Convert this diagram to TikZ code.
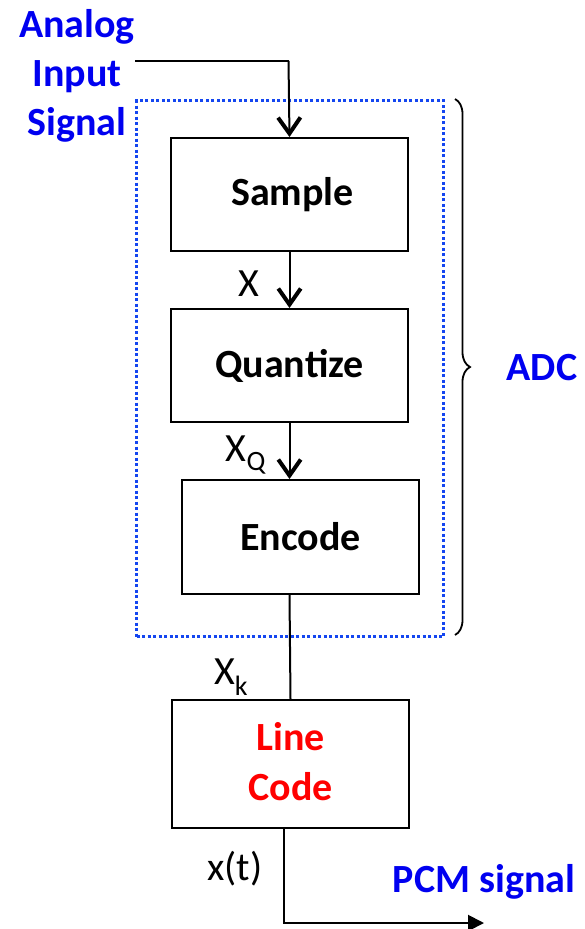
\documentclass[tikz,border=0pt]{standalone}
\usepackage{fontspec}
\setmainfont{Carlito}
\usetikzlibrary{arrows.meta,decorations.pathreplacing}
\definecolor{adcblue}{RGB}{0,0,240}
\definecolor{dotblue}{RGB}{20,70,240}
\definecolor{linered}{RGB}{255,0,0}
\begin{document}
\begin{tikzpicture}[x=1pt,y=-1pt,
  stage/.style={draw,line width=2pt,minimum width=237pt,anchor=north west,inner sep=0pt},
  blocktext/.style={font=\fontsize{40}{50}\selectfont\bfseries},
  sidelabel/.style={text=adcblue,font=\fontsize{40}{49}\selectfont\bfseries,align=center},
  siglabel/.style={font=\fontsize{40}{44}\selectfont},
  flow/.style={line width=2pt,-{Straight Barb[length=16pt,width=22pt,line width=4pt,angle'=70]}},
  wire/.style={line width=2pt}]
\useasboundingbox (0,0) rectangle (584,929);

% ADC boundary and brace
\node[draw=dotblue,line width=3pt,dash pattern=on 3pt off 2.5pt,anchor=north west,minimum width=307pt,minimum height=536pt,inner sep=0pt] (adc) at (135,99) {};
\draw[line width=1.8pt,decorate,decoration={brace,amplitude=15pt}] (455,99) -- (455,635);
\node[sidelabel,anchor=center] (adclabel) at (542,368) {ADC};

% Processing stages
\node[stage,minimum height=113pt] (sample) at (170,137) {};
\node[blocktext] at ([xshift=3pt]sample.center) {Sample};
\node[stage,minimum height=113pt] (quant) at (170,308) {};
\node[blocktext] at (quant.center) {Quantize};
\node[stage,minimum height=114pt] (encode) at (181,479) {};
\node[blocktext] at (encode.center) {Encode};
\node[stage,minimum height=128pt] (line) at (171,699) {};
\node[blocktext,text=linered,align=center] at ([yshift=2pt]line.center) {Line\\Code};

% Input and output labels
\node[sidelabel] (input) at (77,76) {Analog\\Input\\Signal};
\node[sidelabel] (pcm) at (484,882) {PCM signal};

% Connectors
\coordinate (inA) at (135,61);
\coordinate (inB) at (288.5,61);
\draw[wire] (inA) -- (inB);
\draw[flow] (inB) -- (sample.north);
\draw[flow] (sample.south) -- (quant.north);
\draw[flow] (quant.south) -- (quant.south |- encode.north);
\draw[wire] (quant.south |- encode.south) -- (line.north);
\coordinate (outA) at (284,923);
\coordinate (outB) at (484,923);
\draw[wire,-{Triangle[length=16pt,width=16pt]}] (284,827) -- (outA) -- (outB);

% Signal names
\node[siglabel] (xs) at (249,284) {X};
\node[siglabel] (xq) at (246,455) {X\textsubscript{Q}};
\node[siglabel] (xk) at (231,677) {X\textsubscript{k}};
\node[siglabel] (xt) at (235,869) {x(t)};
\end{tikzpicture}
\end{document}
